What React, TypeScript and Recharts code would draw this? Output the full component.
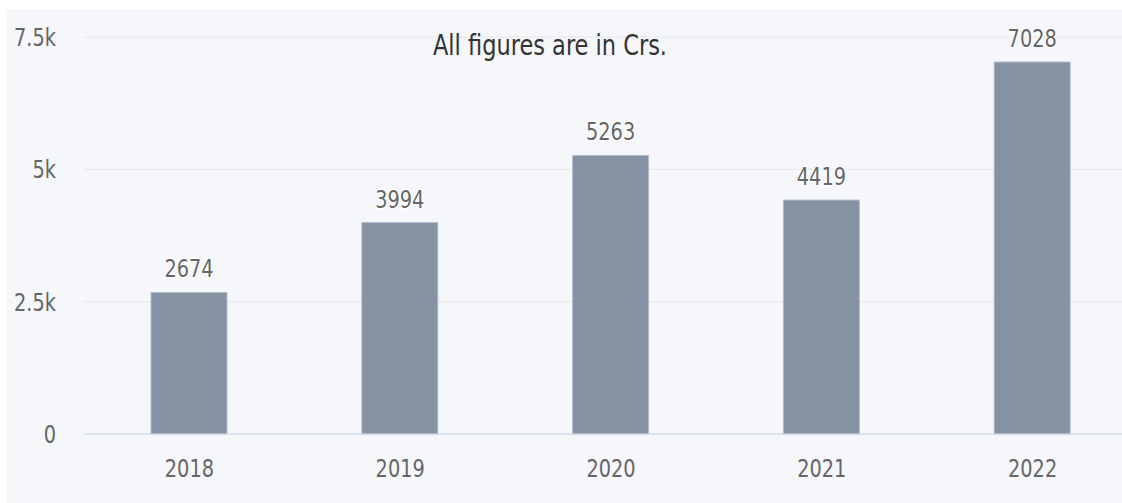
import { BarChart, Bar, XAxis, YAxis, CartesianGrid, LabelList } from 'recharts'

const years = ['2018', '2019', '2020', '2021', '2022']
const revenue = [2674, 3994, 5263, 4419, 7028]
const yTicks = [0, 2500, 5000, 7500]

const data = years.map((year, i) => ({ year, value: revenue[i] }))

const FONT = '"DejaVu Sans Condensed", "DejaVu Sans", sans-serif'
const MUTED = '#666666'
const SIZE = 21.5
const STRETCH = 1.16

const formatK = (v: number) => (v === 0 ? '0' : `${v / 1000}k`)

// the source renders its labels tall and narrow, so stretch them vertically
function XTick({ x, y, payload }: any) {
  return (
    <g transform={`translate(${x},${y}) scale(1,${STRETCH})`}>
      <text textAnchor="middle" dy="0.71em" fontSize={SIZE} fill={MUTED} fontFamily={FONT}>
        {payload.value}
      </text>
    </g>
  )
}

function YTick({ x, y, payload }: any) {
  return (
    <g transform={`translate(${x},${y}) scale(1,${STRETCH})`}>
      <text textAnchor="end" dy="0.355em" fontSize={SIZE} fill={MUTED} fontFamily={FONT}>
        {formatK(payload.value)}
      </text>
    </g>
  )
}

function ValueLabel({ x, y, width, value }: any) {
  return (
    <g transform={`translate(${x + width / 2},${y - 15}) scale(1,${STRETCH})`}>
      <text
        textAnchor="middle"
        fontSize={SIZE}
        fill={MUTED}
        fontFamily={FONT}
        stroke="#ffffff"
        strokeWidth={2}
        style={{ paintOrder: 'stroke' }}
      >
        {value}
      </text>
    </g>
  )
}

export default function App() {
  return (
    <div style={{ position: 'fixed', left: 0, top: 0, width: 1122, height: 503, overflow: 'hidden', background: '#ffffff' }}>
      <div
        style={{
          position: 'absolute',
          left: 7,
          top: 9,
          width: 1115,
          height: 494,
          overflow: 'hidden',
          background: '#f5f7fb',
          fontFamily: FONT
        }}
      >
        <BarChart width={1140} height={494} data={data} margin={{ top: 28, right: 9, left: 0, bottom: 0 }}>
          <CartesianGrid vertical={false} stroke="#e6e6e6" />
          <XAxis
            dataKey="year"
            height={69}
            axisLine={{ stroke: '#ccd6eb' }}
            tickLine={false}
            tickMargin={19}
            tick={<XTick />}
          />
          <YAxis
            width={77}
            domain={[0, 7500]}
            ticks={yTicks}
            axisLine={false}
            tickLine={false}
            tickMargin={22}
            tick={<YTick />}
          />
          {/* columns with value on top */}
          <Bar dataKey="value" fill="#8592a3" stroke="#b4bcc8" strokeWidth={1} barSize={76} isAnimationActive={false}>
            <LabelList dataKey="value" content={<ValueLabel />} />
          </Bar>
        </BarChart>
        <div
          style={{
            position: 'absolute',
            left: 0,
            width: 1086,
            top: 22,
            textAlign: 'center',
            fontSize: 25,
            lineHeight: '30px',
            color: '#333333',
            fontFamily: FONT,
            transform: `scaleY(${STRETCH})`
          }}
        >
          All figures are in Crs.
        </div>
      </div>
    </div>
  )
}
